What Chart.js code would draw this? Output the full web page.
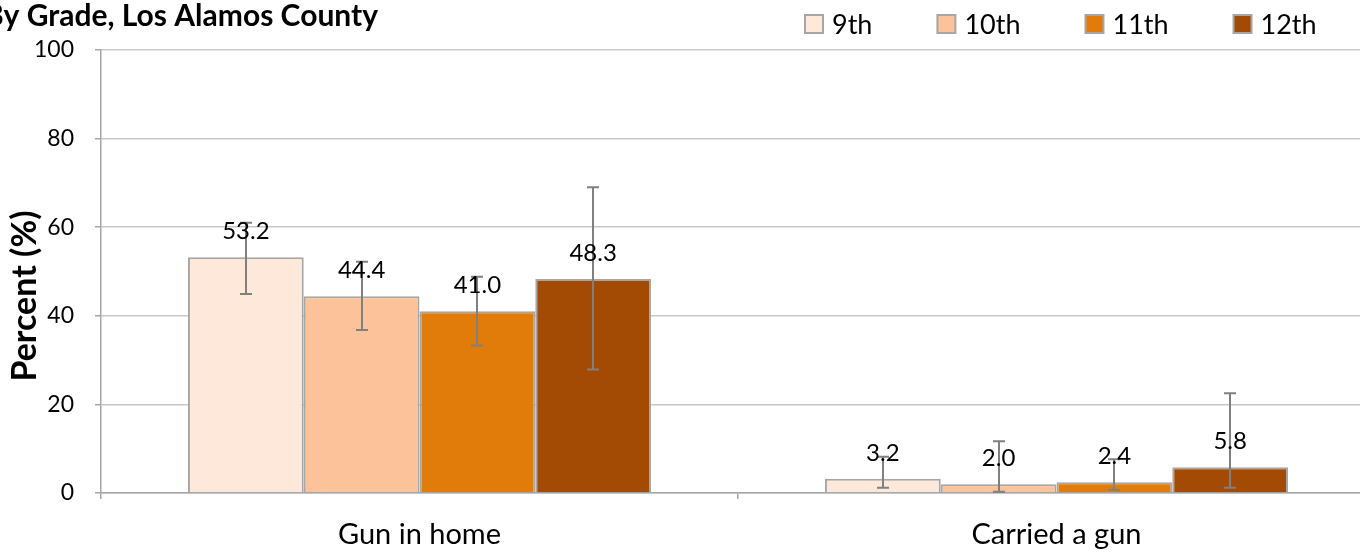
<!DOCTYPE html>
<html><head><meta charset="utf-8">
<script src="https://cdn.jsdelivr.net/npm/chart.js@4.4.0/dist/chart.umd.min.js"></script>
<style>html,body{margin:0;padding:0;overflow:hidden;background:#fff;width:1360px;height:554px}#wrap{width:1380px;height:554px}</style>
</head><body><div id="wrap"><canvas id="c" width="1380" height="554"></canvas></div>
<script>
const categories = ["Gun in home", "Carried a gun"];
const grades = ["9th", "10th", "11th", "12th"];
const v9 = [53.2, 3.2];
const v10 = [44.4, 2.0];
const v11 = [41.0, 2.4];
const v12 = [48.3, 5.8];
const lo9 = [44.9, 1.2], hi9 = [61.0, 8.2];
const lo10 = [36.8, 0.3], hi10 = [52.2, 11.7];
const lo11 = [33.3, 0.7], hi11 = [48.8, 7.6];
const lo12 = [27.9, 1.2], hi12 = [69.0, 22.5];
const yTicks = [0, 20, 40, 60, 80, 100];
const colors = ["#FEE8DA", "#FCC39A", "#E17C0B", "#A34A05"];
const FONT = "Lato, 'Liberation Sans', sans-serif";

const series = [v9, v10, v11, v12];
const los = [lo9, lo10, lo11, lo12];
const his = [hi9, hi10, hi11, hi12];

const extras = {
  id: 'extras',
  afterDatasetsDraw(chart) {
    const ctx = chart.ctx;
    const y = chart.scales.y;
    ctx.save();
    // error bars
    ctx.strokeStyle = '#808080';
    ctx.lineWidth = 2;
    chart.data.datasets.forEach((ds, di) => {
      const meta = chart.getDatasetMeta(di);
      meta.data.forEach((bar, i) => {
        const x = Math.round(bar.x);
        const yt = y.getPixelForValue(his[di][i]);
        const yb = y.getPixelForValue(los[di][i]);
        ctx.beginPath();
        ctx.moveTo(x, yt); ctx.lineTo(x, yb);
        ctx.moveTo(x - 6, yt); ctx.lineTo(x + 6, yt);
        ctx.moveTo(x - 6, yb); ctx.lineTo(x + 6, yb);
        ctx.stroke();
      });
    });
    // data labels
    ctx.fillStyle = '#000';
    ctx.font = '24px ' + FONT;
    ctx.textAlign = 'center';
    ctx.textBaseline = 'middle';
    chart.data.datasets.forEach((ds, di) => {
      const meta = chart.getDatasetMeta(di);
      meta.data.forEach((bar, i) => {
        ctx.fillText(ds.data[i].toFixed(1), bar.x, bar.y - 26);
      });
    });
    // title
    ctx.font = 'bold 30px ' + FONT;
    ctx.textAlign = 'right';
    ctx.textBaseline = 'alphabetic';
    ctx.fillText('By Grade, Los Alamos County', 378, 26);
    // y axis title
    ctx.save();
    ctx.translate(25, 296);
    ctx.rotate(-Math.PI / 2);
    ctx.textAlign = 'center';
    ctx.textBaseline = 'middle';
    ctx.font = 'bold 34px ' + FONT;
    ctx.fillText('Percent (%)', 0, 0);
    ctx.restore();
    // legend
    ctx.font = '27px ' + FONT;
    ctx.textAlign = 'left';
    ctx.textBaseline = 'middle';
    let lx = 805;
    grades.forEach((g, gi) => {
      ctx.fillStyle = colors[gi];
      ctx.fillRect(lx, 15, 18, 18);
      ctx.strokeStyle = '#A6A6A6';
      ctx.lineWidth = 2;
      ctx.strokeRect(lx, 15, 18, 18);
      ctx.fillStyle = '#000';
      ctx.fillText(g, lx + 27, 25);
      lx += 27 + ctx.measureText(g).width + 65;
    });
    ctx.restore();
  }
};

new Chart(document.getElementById('c'), {
  type: 'bar',
  data: {
    labels: categories,
    datasets: series.map((s, i) => ({
      label: grades[i],
      data: s,
      backgroundColor: colors[i],
      borderColor: '#A6A6A6',
      borderWidth: 2,
      categoryPercentage: 0.727,
      barPercentage: 1.0
    }))
  },
  options: {
    responsive: false,
    animation: false,
    devicePixelRatio: 1,
    layout: { padding: { top: 50, right: 5, left: 0, bottom: 0 } },
    plugins: { legend: { display: false }, tooltip: { enabled: false }, title: { display: false } },
    scales: {
      x: {
        afterFit(s) { s.height = 61; },
        grid: { display: true, drawOnChartArea: false, drawTicks: true, tickLength: 6, color: '#A6A6A6', lineWidth: 1.5, offset: true },
        border: { display: true, color: '#A6A6A6', width: 1.5 },
        ticks: { color: '#000', font: { family: FONT, size: 29 }, padding: 18 }
      },
      y: {
        min: 0, max: 100,
        afterFit(s) { s.width = 101; },
        afterBuildTicks(s) { s.ticks = yTicks.map(v => ({ value: v })); },
        grid: { color: '#C8C8C8', lineWidth: 1.5, tickLength: 6, drawTicks: true, tickColor: '#A6A6A6' },
        border: { display: true, color: '#A6A6A6', width: 1.5 },
        ticks: { color: '#000', font: { family: FONT, size: 23 }, padding: 21 }
      }
    }
  },
  plugins: [extras]
});
</script>
</body></html>
